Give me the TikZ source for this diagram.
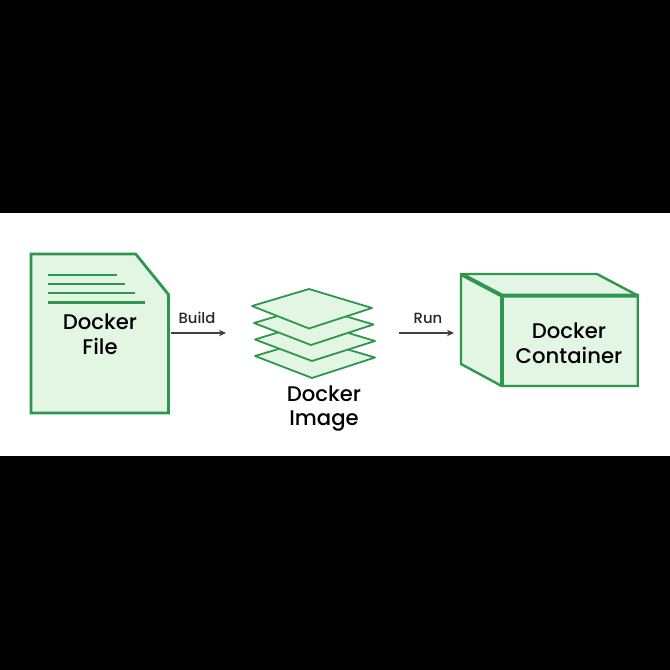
\documentclass[tikz,border=0pt]{standalone}
\usepackage{fontspec}
\setmainfont{Poppins Medium}
\usetikzlibrary{arrows.meta}
\definecolor{gfg}{HTML}{2F9650}
\definecolor{gfill}{HTML}{E3F6E3}
\definecolor{arrowc}{HTML}{404040}
\tikzset{
  x=1pt,y=-1pt,
  solidbox/.style={draw=gfg,fill=gfill,line width=2.8pt,line join=miter},
  layer/.style={draw=gfg,fill=gfill,line width=1.8pt,line join=round},
  textline/.style={draw=gfg,line width=2.6pt},
  boxedge/.style={draw=gfg,line width=4pt,line cap=butt,line join=miter},
  flow/.style={draw=arrowc,line width=1.3pt,-{Stealth[length=7pt,width=6.5pt]}},
  title/.style={font=\fontsize{21.2}{24.8}\selectfont,text=black,align=center,inner sep=0pt},
  flowlabel/.style={font=\fontsize{14.8}{16}\selectfont,text=black!85,inner sep=0pt},
}
\begin{document}
\begin{tikzpicture}
\useasboundingbox (0,0) rectangle (670,670);
\fill[black] (0,0) rectangle (670,213);
\fill[black] (0,456) rectangle (670,670);
\fill[white] (0,213) rectangle (670,456);
% Docker file
\path[solidbox] (31,254) -- (135.7,254) -- (168.5,294.5) -- (168.5,413) -- (31,413) -- cycle;
\coordinate (l1a) at (47.5,275); \coordinate (l1b) at (117,275);
\coordinate (l2a) at (47.5,284); \coordinate (l2b) at (125,284);
\coordinate (l3a) at (47.5,293); \coordinate (l3b) at (135,293);
\coordinate (l4a) at (47.5,302); \coordinate (l4b) at (145,302);
\draw[textline] (l1a) -- (l1b);
\draw[textline] (l2a) -- (l2b);
\draw[textline] (l3a) -- (l3b);
\draw[textline,line width=3pt] (l4a) -- (l4b);
\node[title] (file) at (100,334) {Docker\\File};
% Docker image layers
\path[layer] (255,356) -- (312,339) -- (375,357.5) -- (312,378) -- cycle;
\path[layer] (255,339.5) -- (312,322) -- (375,341) -- (312,361) -- cycle;
\path[layer] (254,323) -- (311,306) -- (373.5,324.5) -- (311,345) -- cycle;
\path[layer] (252,306) -- (309,289) -- (372,308) -- (309,328.5) -- cycle;
\node[title] (image) at (324,408.5) {Docker\\Image};
% Docker container
\path[solidbox,line width=2.4pt] (461,274) -- (597,274) -- (637.7,295.5) -- (637.7,386) -- (501.7,386) -- (461,364) -- cycle;
\coordinate (ctl) at (462,274.5);
\coordinate (cft) at (501.7,295.5);
\coordinate (cfr) at (638.9,295.5);
\coordinate (cfb) at (501.7,387);
\draw[boxedge] (ctl) -- (cft) -- (cfr);
\draw[boxedge] (cft) -- (cfb);
\node[title] (container) at (569,343.5) {Docker\\Container};
% Flows
\coordinate (buildfrom) at (171,333); \coordinate (buildto) at (226,333);
\coordinate (runfrom) at (399,333); \coordinate (runto) at (454,333);
\draw[flow] (buildfrom) -- (buildto);
\draw[flow] (runfrom) -- (runto);
\node[flowlabel] (build) at (197,318) {Build};
\node[flowlabel] (run) at (428,318) {Run};
\end{tikzpicture}
\end{document}
